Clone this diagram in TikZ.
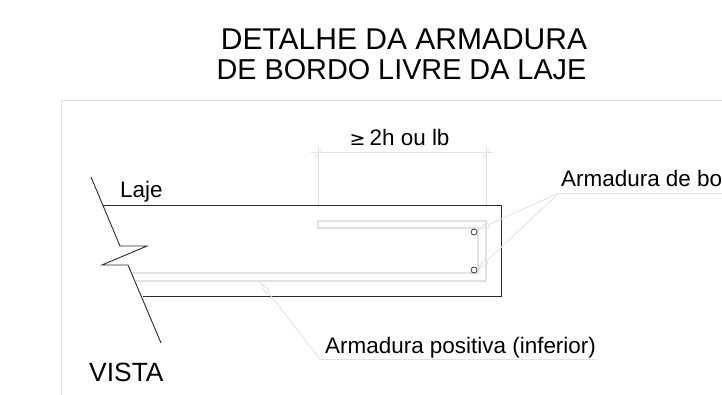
\documentclass[tikz,border=0pt]{standalone}
\usepackage{fontspec}
\setmainfont{Liberation Sans}
\usetikzlibrary{arrows.meta}
\definecolor{pale}{HTML}{E2E2E2}
\definecolor{ink}{HTML}{2A2A2A}
\tikzset{
  outline/.style={draw=ink,line width=0.9pt},
  rebar/.style={draw=pale,line width=1.7pt},
  thin/.style={draw=pale,line width=0.8pt},
  leader/.style={draw=pale,line width=0.8pt,-{Triangle[open,length=13pt,width=6pt]}},
  lbl/.style={inner sep=0pt,text=black,anchor=base west},
  small/.style={font=\fontsize{22.45}{24}\selectfont},
  ttl/.style={inner sep=0pt,anchor=base},
  bar/.style={circle,draw=ink,line width=0.7pt,minimum size=6pt,inner sep=0pt},
}
\begin{document}
\begin{tikzpicture}[x=1pt,y=-1pt]
\useasboundingbox (0,0) rectangle (722,395);
% frame
\draw[thin] (61,395) -- (61,100) -- (722,100);
% titles
\node[ttl,font=\fontsize{30}{32}\selectfont] (t1) at (404,50) {DETALHE DA ARMADURA};
\node[ttl,font=\fontsize{28.8}{32}\selectfont] (t2) at (401.5,80) {DE BORDO LIVRE DA LAJE};
% slab
\draw[outline] (103,205) -- (501,205) -- (501,296) -- (143,296);
\draw[outline] (91,177) -- (120,246) -- (147,246) -- (102,265) -- (128,265) -- (161,343);
% rebars
\draw[rebar] (133,273) -- (478,273) -- (478,228) -- (318,228) -- (318,221) -- (486,221) -- (486,281) -- (136,281);
\node[bar] (b1) at (474,232) {};
\node[bar] (b2) at (474,270) {};
% dimension
\draw[thin,line width=1pt] (311,153) -- (493,153);
\draw[thin] (318,147) -- (318,205);
\draw[thin] (486,147) -- (486,205);
\draw[thin] (315,157) -- (322,149);
\draw[thin] (483,157) -- (490,149);
\node[lbl,small] (dim) at (349.5,146) {{\fontspec{DejaVu Sans}\fontsize{19}{21}\selectfont ≥}\kern4pt 2h ou lb};
% labels
\node[lbl,small] (laje) at (120,198) {Laje};
\node[lbl,font=\fontsize{26.4}{28}\selectfont] (vista) at (89,381) {VISTA};
\node[lbl,small] (ab) at (561,187) {Armadura de bo};
\node[lbl,small] (ap) at (325,353) {Armadura positiva (inferior)};
% leaders
\coordinate (c1) at (559,193); \coordinate (c2) at (722,193);
\coordinate (c3) at (320,359); \coordinate (c4) at (596,359);
\coordinate (a1) at (477,230); \coordinate (a2) at (477,270); \coordinate (a3) at (260,282);
\draw[thin] (c2) -- (c1);
\draw[leader] (c1) -- (a1);
\draw[leader] (c1) -- (a2);
\draw[thin] (c4) -- (c3);
\draw[leader] (c3) -- (a3);
\end{tikzpicture}
\end{document}
